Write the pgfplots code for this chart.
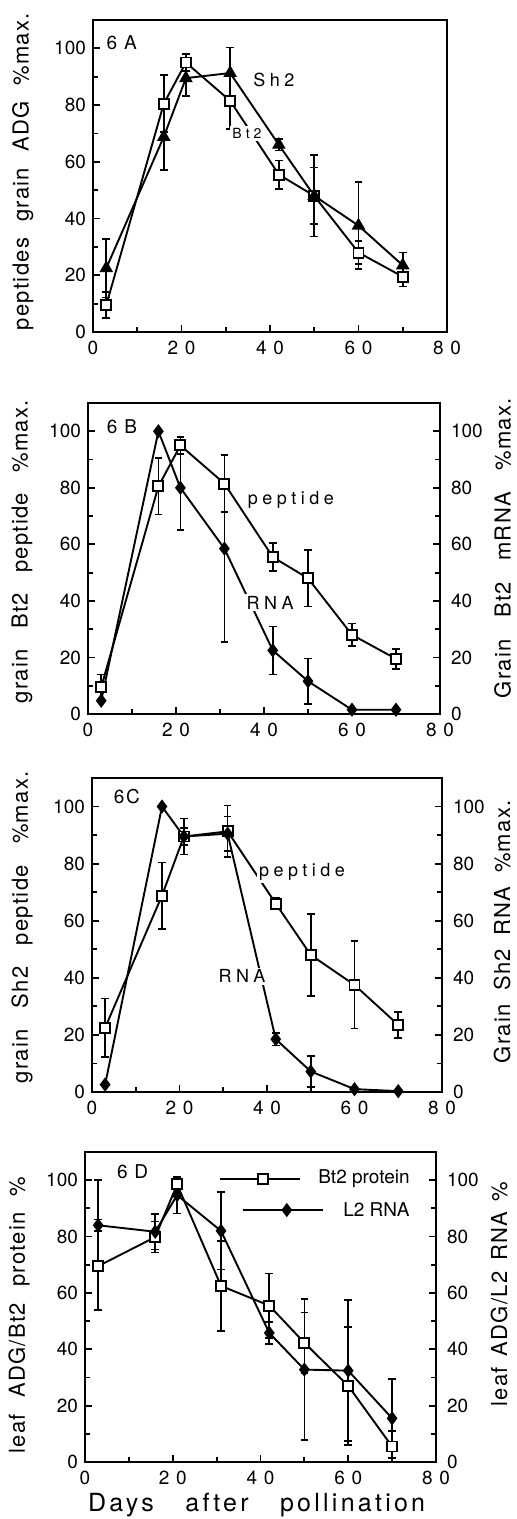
\documentclass[border=0pt]{standalone}
\usepackage{pgfplots}
\pgfplotsset{compat=1.18}
\usepackage{fontspec}
\setmainfont{TeX Gyre Heros}
\newfontfamily\spaced[LetterSpace=8]{TeX Gyre Heros}
\newfontfamily\lab[LetterSpace=6]{TeX Gyre Heros}
\newfontfamily\wide[LetterSpace=25]{TeX Gyre Heros}
\newfontfamily\xwide[LetterSpace=13]{TeX Gyre Heros}
\newcommand\yticksfont{\fontsize{9.5}{11}\selectfont}
\newcommand\xticksfont{\spaced\fontsize{9.5}{11}\selectfont}
\newcommand\labfont{\lab\fontsize{11}{13}\selectfont}
\newcommand\annfont{\wide\fontsize{9}{11}\selectfont}
\newcommand\xlabfont{\xwide\fontsize{12.5}{14}\selectfont}
\pgfplotsset{
  common/.style={
    scale only axis, anchor=south west,
    xmin=0, xmax=80, ymin=0, ymax=110,
    tick align=inside,
    major tick length=3.6pt, minor tick length=2.6pt,
    every tick/.style={black, line width=0.9pt},
    axis line style={line width=1.1pt},
    yticklabel style={font=\yticksfont},
    xticklabel style={font=\xticksfont, yshift=-1pt},
    label style={font=\labfont, inner sep=0pt},
    ytick={0,20,40,60,80,100},
    yticklabels={0,20,40,60,80,100},
    minor ytick={10,30,50,70,90},
    clip=false,
  },
  panel/.style={common,
    xtick={0,20,40,60,80},
    xticklabels={0,2\hspace{0.35em}0,4\hspace{0.35em}0,6\hspace{0.35em}0,8\hspace{0.35em}0},
    minor xtick={10,30,50,70},
    xtick pos=left, ytick pos=left,
  },
  rpanel/.style={common,
    xtick=\empty, minor xtick={},
    ytick pos=right, yticklabel pos=right,
    yticklabel style={xshift=2pt},
  },
  ser/.style={black, line width=0.95pt, mark size=2.5pt,
    mark options={solid, line width=0.8pt}},
  sq/.style={ser, mark=square*, mark options={fill=white}},
  tri/.style={ser, mark=triangle*, mark size=3pt, mark options={fill=black}},
  dia/.style={ser, mark=diamond*, mark size=2.8pt, mark options={fill=black}},
  eb/.style={error bars/.cd, y dir=both, y explicit,
    error mark options={rotate=90, mark size=1.9pt, line width=0.8pt},
    error bar style={line width=0.8pt}},
}
\begin{document}
\begin{tikzpicture}
\useasboundingbox (0,0) rectangle (258.5pt,759.5pt);

% ---------------- Panel 6A ----------------
\begin{axis}[panel, at={(46.5pt,593.5pt)}, width=177pt, height=156pt,
  ylabel={\makebox[158.5pt]{peptides\hfill grain\hfill ADG\hfill\%max.}},
  ylabel style={at={(axis description cs:-0.198,0.514)}, anchor=center}]
\addplot[sq, eb] coordinates {
 (3,9.5) +- (0,4.5) (16,80.5) +- (0,10) (21,95) +- (0,3) (31,81.5) +- (0,10)
 (42,55.5) +- (0,5) (50,48) +- (0,10) (60,28) +- (0,4) (70,19.5) +- (0,3.5)};
\addplot[tri, eb] coordinates {
 (3,22.5) +- (0,10.3) (16,68.8) +- (0,11.6) (21,89.5) +- (0,6.3) (31,91.3) +- (0,9)
 (42,66) +- (0,2) (50,48) +- (0,14.3) (60,37.5) +- (0,15.3) (70,23.5) +- (0,4.5)};
\node[anchor=west, font=\xticksfont] at (axis cs:1.5,102) {6 A};
\node[font=\annfont] at (axis cs:40.9,89) {Sh2};
\node[font=\fontsize{7}{8}\selectfont, fill=white, inner sep=1pt] at (axis cs:34.8,70) {B\hspace{2pt}t\hspace{2pt}2};
\end{axis}

% ---------------- Panel 6B ----------------
\begin{axis}[panel, at={(44pt,402.5pt)}, width=176pt, height=155.5pt,
  ylabel={\makebox[151.5pt]{grain\hfill Bt2\hfill peptide\hfill\%max.}},
  ylabel style={at={(axis description cs:-0.1875,0.522)}, anchor=center}]
\addplot[sq, eb] coordinates {
 (3,9.5) +- (0,4.5) (16,80.5) +- (0,10) (21,95) +- (0,3) (31,81.5) +- (0,10)
 (42,55.5) +- (0,5) (50,48) +- (0,10) (60,28) +- (0,4) (70,19.5) +- (0,3.5)};
\addplot[dia, eb] coordinates {
 (3,4.7) +- (0,0) (16,100) +- (0,0) (21,80) +- (0,15) (31,58.5) +- (0,33)
 (42,22.5) +- (0,8.5) (50,11.6) +- (0,8) (60,1.5) +- (0,0) (70,1.5) +- (0,0)};
\node[anchor=west, font=\xticksfont] at (axis cs:2.7,101.7) {6 B};
\node[font=\annfont, fill=white, inner sep=1pt] at (axis cs:46.1,75.7) {peptide};
\node[font=\annfont, fill=white, inner sep=1pt] at (axis cs:41.4,39.3) {RNA};
\end{axis}
\begin{axis}[rpanel, at={(44pt,402.5pt)}, width=176pt, height=155.5pt,
  ylabel={\makebox[150pt]{Grain\hfill Bt2\hfill mRNA\hfill\%max.}},
  ylabel style={at={(axis description cs:1.178,0.533)}, anchor=center}]
\end{axis}

% ---------------- Panel 6C ----------------
\begin{axis}[panel, at={(46pt,213.5pt)}, width=175pt, height=157pt,
  ylabel={\makebox[156pt]{grain\hfill Sh2\hfill peptide\hfill\%max.}},
  ylabel style={at={(axis description cs:-0.2,0.524)}, anchor=center}]
\addplot[sq, eb] coordinates {
 (3,22.5) +- (0,10.3) (16,68.8) +- (0,11.6) (21,89.5) +- (0,6.3) (31,91.3) +- (0,9)
 (42,66) +- (0,2) (50,48) +- (0,14.3) (60,37.5) +- (0,15.3) (70,23.5) +- (0,4.5)};
\addplot[dia, eb] coordinates {
 (3,2.6) +- (0,0) (16,100) +- (0,0) (21,89.5) +- (0,3) (31,90.5) +- (0,6)
 (42,18.5) +- (0,2.2) (50,7.2) +- (0,5.5) (60,1) +- (0,0) (70,0.3) +- (0,0)};
\node[anchor=west, font=\xticksfont] at (axis cs:3.4,103.5) {6C};
\node[font=\annfont, fill=white, inner sep=1pt] at (axis cs:48,77) {peptide};
\node[font=\annfont, fill=white, inner sep=1pt] at (axis cs:34.3,40.6) {RNA};
\end{axis}
\begin{axis}[rpanel, at={(46pt,213.5pt)}, width=175pt, height=157pt,
  ylabel={\makebox[131.5pt]{Grain\hfill Sh2\hfill RNA\hfill\%max.}},
  ylabel style={at={(axis description cs:1.172,0.51)}, anchor=center}]
\end{axis}

% ---------------- Panel 6D ----------------
\begin{axis}[panel, at={(42.5pt,28.5pt)}, width=175.5pt, height=155pt,
  ylabel={\makebox[138.5pt]{leaf\hfill ADG/Bt2\hfill protein\hfill\%}},
  ylabel style={at={(axis description cs:-0.188,0.474)}, anchor=center},
  xlabel={\makebox[168.5pt]{Days\hfill after\hfill pollination}},
  xlabel style={font=\xlabfont, at={(axis description cs:0.489,-0.139)}, anchor=center}]
\addplot[sq, eb] coordinates {
 (3,69.5) += (0,30.5) -= (0,15.5) (16,79.8) +- (0,5.5) (21,98.5) +- (0,1.5) (31,62.5) +- (0,16)
 (42,55.5) +- (0,11.4) (50,42.3) +- (0,10.7) (60,27) +- (0,21) (70,5.5) +- (0,5.4)};
\addplot[dia, eb] coordinates {
 (3,84) +- (0,2) (16,81.7) +- (0,6.3) (21,94.7) +- (0,6.5) (31,82) +- (0,13.7)
 (42,45.8) +- (0,3.9) (50,32.8) +- (0,25) (60,32.4) +- (0,25) (70,15.5) +- (0,14)};
% legend samples
\addplot[sq, mark indices={2}] coordinates {(30.8,100.4) (40.5,100.4) (49,100.4)};
\addplot[dia, mark indices={2}] coordinates {(36,89.4) (46,89.4) (54.2,89.4)};
\node[anchor=east, font=\fontsize{9.5}{11}\selectfont] at (axis cs:75.6,100.4) {Bt2 protein};
\node[anchor=east, font=\fontsize{9.5}{11}\selectfont] at (axis cs:75.6,89.4) {L2 RNA};
\node[anchor=west, font=\xticksfont] at (axis cs:5.7,103) {6 D};
\end{axis}
\begin{axis}[rpanel, at={(42.5pt,28.5pt)}, width=175.5pt, height=155pt,
  ylabel={\makebox[112.5pt]{leaf\hfill ADG/L2\hfill RNA\hfill\%}},
  ylabel style={at={(axis description cs:1.18,0.542)}, anchor=center}]
\end{axis}
\end{tikzpicture}
\end{document}
